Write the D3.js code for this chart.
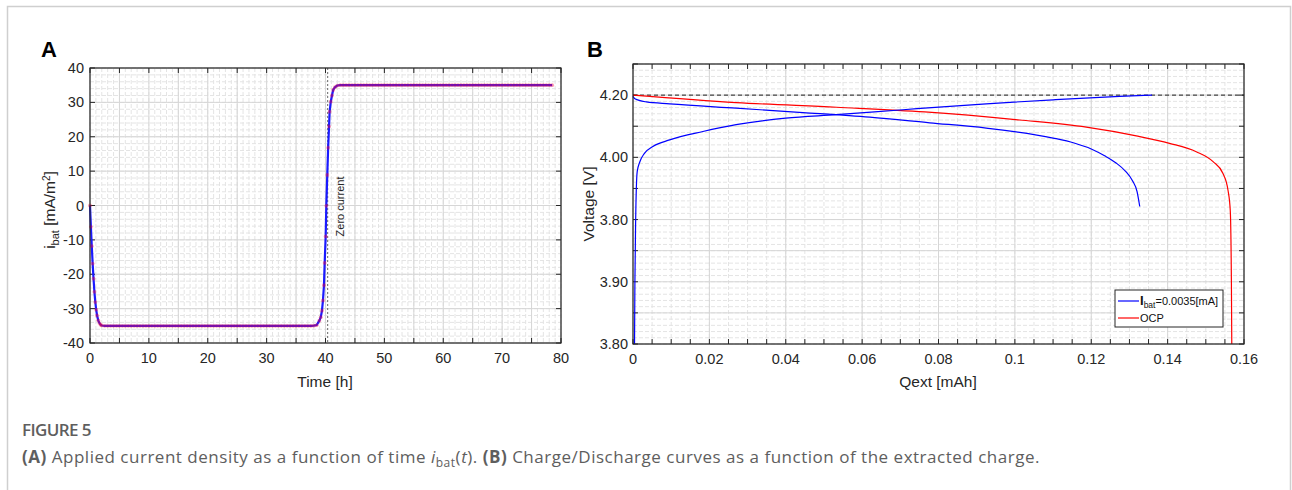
<!DOCTYPE html>
<html>
<head>
<meta charset="utf-8">
<script src="https://cdn.jsdelivr.net/npm/d3@7"></script>
<style>
  body { margin: 0; background: #fff; }
  svg text { font-family: "Liberation Sans", Arial, sans-serif; }
  svg text.caption { font-family: "Open Sans", "Noto Sans", sans-serif; }
</style>
</head>
<body>
<svg id="chart"></svg>
<script>
// ---- Panel A data: applied current density vs time ----
const timeH = [
  0, 0.15, 0.3, 0.45, 0.6, 0.75, 0.9, 1.05, 1.2, 1.4, 1.6, 1.8, 2.0,
  2.5, 3, 3.5, 4, 4.5, 5, 5.5, 6, 6.5, 7, 7.5, 8, 8.5, 9, 9.5, 10, 10.5, 11, 11.5, 12,
  12.5, 13, 13.5, 14, 14.5, 15, 15.5, 16, 16.5, 17, 17.5, 18, 18.5, 19, 19.5, 20, 20.5,
  21, 21.5, 22, 22.5, 23, 23.5, 24, 24.5, 25, 25.5, 26, 26.5, 27, 27.5, 28, 28.5, 29,
  29.5, 30, 30.5, 31, 31.5, 32, 32.5, 33, 33.5, 34, 34.5, 35, 35.5, 36, 36.5, 37, 37.5,
  38, 38.5, 38.95, 39.2, 39.4, 39.57, 39.74, 39.86, 40.03, 40.14, 40.3, 40.45, 40.6,
  40.7, 40.9, 41.1, 41.3, 41.6, 42,
  42.5, 43, 43.5, 44, 44.5, 45, 45.5, 46, 46.5, 47, 47.5, 48, 48.5, 49, 49.5, 50, 50.5,
  51, 51.5, 52, 52.5, 53, 53.5, 54, 54.5, 55, 55.5, 56, 56.5, 57, 57.5, 58, 58.5, 59,
  59.5, 60, 60.5, 61, 61.5, 62, 62.5, 63, 63.5, 64, 64.5, 65, 65.5, 66, 66.5, 67, 67.5,
  68, 68.5, 69, 69.5, 70, 70.5, 71, 71.5, 72, 72.5, 73, 73.5, 74, 74.5, 75, 75.5, 76,
  76.5, 77, 77.5, 78, 78.5
];
const iBat = [
  0, -6.2, -11.8, -16.9, -21.3, -25.1, -28.1, -30.3, -32.0, -33.4, -34.2, -34.7, -34.9,
  -35, -35, -35, -35, -35, -35, -35, -35, -35, -35, -35, -35, -35, -35, -35, -35, -35, -35, -35, -35,
  -35, -35, -35, -35, -35, -35, -35, -35, -35, -35, -35, -35, -35, -35, -35, -35, -35,
  -35, -35, -35, -35, -35, -35, -35, -35, -35, -35, -35, -35, -35, -35, -35, -35, -35,
  -35, -35, -35, -35, -35, -35, -35, -35, -35, -35, -35, -35, -35, -35, -35, -35, -35,
  -34.95, -34.8, -33.5, -32.5, -30.6, -27.6, -23.2, -16.7, -9.0, -0.1, 8.9, 16.8, 23.0,
  27.3, 30.2, 32.0, 33.6, 34.4, 34.9,
  35, 35, 35, 35, 35, 35, 35, 35, 35, 35, 35, 35, 35, 35, 35, 35, 35,
  35, 35, 35, 35, 35, 35, 35, 35, 35, 35, 35, 35, 35, 35, 35, 35, 35,
  35, 35, 35, 35, 35, 35, 35, 35, 35, 35, 35, 35, 35, 35, 35, 35, 35,
  35, 35, 35, 35, 35, 35, 35, 35, 35, 35, 35, 35, 35, 35, 35, 35, 35,
  35, 35, 35, 35, 35
];
const zeroCurrentTime = 40.37;
const timeTicks = [0, 10, 20, 30, 40, 50, 60, 70, 80];
const currentTicks = [-40, -30, -20, -10, 0, 10, 20, 30, 40];

// ---- Panel B data: charge / discharge curves ----
const chargeQ = [0.0004, 0.0005, 0.0007, 0.0011, 0.0018, 0.003, 0.0052, 0.0096, 0.0183, 0.027,
  0.040, 0.0533, 0.0707, 0.0925, 0.11, 0.1274, 0.1359];
const chargeV = [3.40, 3.60, 3.80, 3.954, 3.986, 4.013, 4.035, 4.056, 4.083, 4.105,
  4.126, 4.137, 4.153, 4.172, 4.185, 4.196, 4.20];
const dischargeQ = [0, 0.0005, 0.0035, 0.0096, 0.027, 0.0445, 0.062, 0.0777, 0.0925, 0.11,
  0.1155, 0.12, 0.1235, 0.1265, 0.129, 0.1308, 0.132, 0.1327];
const dischargeV = [4.196, 4.188, 4.178, 4.172, 4.158, 4.144, 4.129, 4.111, 4.094, 4.062,
  4.046, 4.027, 4.005, 3.982, 3.955, 3.925, 3.89, 3.842];
const ocpQ = [0, 0.027, 0.0533, 0.0764, 0.1012, 0.1187, 0.1318, 0.1405, 0.1475, 0.1519,
  0.1545, 0.1558, 0.1564, 0.1567, 0.1568];
const ocpV = [4.20, 4.176, 4.161, 4.146, 4.120, 4.097, 4.069, 4.045, 4.018, 3.986,
  3.948, 3.895, 3.830, 3.60, 3.40];
const referenceVoltage = 4.2;
const qTicks = [0, 0.02, 0.04, 0.06, 0.08, 0.1, 0.12, 0.14, 0.16];
const qTickLabels = ["0", "0.02", "0.04", "0.06", "0.08", "0.1", "0.12", "0.14", "0.16"];
const vTicks = [4.2, 4.0, 3.8, 3.6, 3.4];
const vTickLabels = ["4.20", "4.00", "3.80", "3.90", "3.80"];

const W = 1292, H = 490;
const axisColor = "#262626";
const tickFont = 14.5;
const labelFont = 15.5;

const svg = d3.select("#chart")
    .attr("width", W)
    .attr("height", H);

// Card frame
svg.append("path")
    .attr("d", `M7.5,${H} V6.5 H1290.5 V${H}`)
    .attr("fill", "none")
    .attr("stroke", "#cfcfcf")
    .attr("stroke-width", 1.5);

// Draws grid and inward ticks for one panel
function drawFrame(g, x, y, opt) {
  let [x0, x1] = x.range();
  let [y1, y0] = y.range();

  // minor grid
  g.append("g").selectAll("line")
      .data(opt.xMinor)
    .join("line")
      .attr("x1", d => x(d)).attr("x2", d => x(d))
      .attr("y1", y0).attr("y2", y1)
      .attr("stroke", "#e4e4e4")
      .attr("stroke-dasharray", "4,2");
  g.append("g").selectAll("line")
      .data(opt.yMinor)
    .join("line")
      .attr("y1", d => y(d)).attr("y2", d => y(d))
      .attr("x1", x0).attr("x2", x1)
      .attr("stroke", "#e4e4e4")
      .attr("stroke-dasharray", "4,2");
  // major grid
  g.append("g").selectAll("line")
      .data(opt.xGrid)
    .join("line")
      .attr("x1", d => x(d)).attr("x2", d => x(d))
      .attr("y1", y0).attr("y2", y1)
      .attr("stroke", "#d6d6d6");
  g.append("g").selectAll("line")
      .data(opt.yGrid)
    .join("line")
      .attr("y1", d => y(d)).attr("y2", d => y(d))
      .attr("x1", x0).attr("x2", x1)
      .attr("stroke", "#d6d6d6");

  // inward ticks on all four sides
  let tl = 5;
  let tg = g.append("g").attr("stroke", axisColor);
  opt.xTickMarks.forEach(d => {
    tg.append("line").attr("x1", x(d)).attr("x2", x(d)).attr("y1", y1).attr("y2", y1 - tl);
    tg.append("line").attr("x1", x(d)).attr("x2", x(d)).attr("y1", y0).attr("y2", y0 + tl);
  });
  opt.yTickMarks.forEach(d => {
    tg.append("line").attr("y1", y(d)).attr("y2", y(d)).attr("x1", x0).attr("x2", x0 + tl);
    tg.append("line").attr("y1", y(d)).attr("y2", y(d)).attr("x1", x1).attr("x2", x1 - tl);
  });
}

function drawBox(g, x, y) {
  let [x0, x1] = x.range();
  let [y1, y0] = y.range();
  g.append("rect")
      .attr("x", x0).attr("y", y0)
      .attr("width", x1 - x0).attr("height", y1 - y0)
      .attr("fill", "none")
      .attr("stroke", axisColor)
      .attr("stroke-width", 1.2);
}

// ================= Panel A =================
const xA = d3.scaleLinear().domain([0, 80]).range([90, 561]);
const yA = d3.scaleLinear().domain([-40, 40]).range([343, 68]);
const gA = svg.append("g");

drawFrame(gA, xA, yA, {
  xMinor: d3.range(0, 81, 1),
  yMinor: d3.range(-40, 41, 2),
  xGrid: d3.range(0, 81, 5),
  yGrid: currentTicks,
  xTickMarks: d3.range(0, 81, 5),
  yTickMarks: currentTicks
});

// zero current line
gA.append("line")
    .attr("x1", xA(zeroCurrentTime)).attr("x2", xA(zeroCurrentTime))
    .attr("y1", yA(40)).attr("y2", yA(-40))
    .attr("stroke", "#666")
    .attr("stroke-dasharray", "2,2");
gA.append("text")
    .attr("transform", `translate(${xA(zeroCurrentTime) + 16},${yA(-9)}) rotate(-90)`)
    .attr("font-size", 11)
    .attr("fill", axisColor)
    .text("Zero current");

const seriesA = timeH.map((t, i) => ({ t: t, v: iBat[i] }));
gA.append("path")
    .datum(seriesA)
    .attr("fill", "none")
    .attr("stroke", "#1a1aff")
    .attr("stroke-width", 2.2)
    .attr("d", d3.line().x(d => xA(d.t)).y(d => yA(d.v)));
gA.selectAll("circle.marker")
    .data(seriesA)
  .join("circle")
    .attr("class", "marker")
    .attr("cx", d => xA(d.t))
    .attr("cy", d => yA(d.v))
    .attr("r", 1.9)
    .attr("fill", "#ff0030")
    .attr("fill-opacity", 0.38);

drawBox(gA, xA, yA);

gA.append("g").selectAll("text")
    .data(timeTicks)
  .join("text")
    .attr("x", d => xA(d)).attr("y", 363)
    .attr("text-anchor", "middle")
    .attr("font-size", tickFont)
    .attr("fill", axisColor)
    .text(d => d);
gA.append("g").selectAll("text")
    .data(currentTicks)
  .join("text")
    .attr("x", 84).attr("y", d => yA(d) + 5)
    .attr("text-anchor", "end")
    .attr("font-size", tickFont)
    .attr("fill", axisColor)
    .text(d => d);

gA.append("text")
    .attr("x", 325).attr("y", 387)
    .attr("text-anchor", "middle")
    .attr("font-size", labelFont)
    .attr("fill", axisColor)
    .text("Time [h]");

let yLabA = gA.append("text")
    .attr("transform", `translate(55,210) rotate(-90)`)
    .attr("text-anchor", "middle")
    .attr("font-size", labelFont)
    .attr("fill", axisColor);
yLabA.append("tspan").text("i");
yLabA.append("tspan").attr("font-size", 11).attr("dy", 4).text("bat");
yLabA.append("tspan").attr("dy", -4).text(" [mA/m");
yLabA.append("tspan").attr("font-size", 10).attr("dy", -5).text("2");
yLabA.append("tspan").attr("dy", 5).text("]");

svg.append("text")
    .attr("x", 41).attr("y", 57)
    .attr("font-size", 22)
    .attr("font-weight", "bold")
    .attr("fill", "#000")
    .text("A");

// ================= Panel B =================
const xB = d3.scaleLinear().domain([0, 0.16]).range([633, 1244]);
const yB = d3.scaleLinear().domain([3.4, 4.3]).range([344, 64]);
const gB = svg.append("g");

drawFrame(gB, xB, yB, {
  xMinor: d3.range(0, 0.1601, 0.005),
  yMinor: d3.range(3.4, 4.301, 0.02),
  xGrid: qTicks,
  yGrid: d3.range(3.4, 4.301, 0.1),
  xTickMarks: d3.range(0, 0.1601, 0.005),
  yTickMarks: d3.range(3.4, 4.301, 0.1)
});

gB.append("line")
    .attr("x1", xB(0)).attr("x2", xB(0.16))
    .attr("y1", yB(referenceVoltage)).attr("y2", yB(referenceVoltage))
    .attr("stroke", "#222")
    .attr("stroke-dasharray", "4,3");

const lineB = d3.line()
    .x(d => xB(d.q))
    .y(d => yB(d.v))
    .curve(d3.curveMonotoneX);

const curvesB = [
  { q: ocpQ, v: ocpV, colour: "#ff0000" },
  { q: dischargeQ, v: dischargeV, colour: "#0000ff" },
  { q: chargeQ, v: chargeV, colour: "#0000ff" }
];
curvesB.forEach(c => {
  gB.append("path")
      .datum(c.q.map((q, i) => ({ q: q, v: c.v[i] })))
      .attr("fill", "none")
      .attr("stroke", c.colour)
      .attr("stroke-width", 1.2)
      .attr("d", lineB);
});

drawBox(gB, xB, yB);

gB.append("g").selectAll("text")
    .data(qTicks)
  .join("text")
    .attr("x", d => xB(d)).attr("y", 364)
    .attr("text-anchor", "middle")
    .attr("font-size", tickFont)
    .attr("fill", axisColor)
    .text((d, i) => qTickLabels[i]);
gB.append("g").selectAll("text")
    .data(vTicks)
  .join("text")
    .attr("x", 628).attr("y", d => yB(d) + 5)
    .attr("text-anchor", "end")
    .attr("font-size", tickFont)
    .attr("fill", axisColor)
    .text((d, i) => vTickLabels[i]);

gB.append("text")
    .attr("x", 938).attr("y", 387)
    .attr("text-anchor", "middle")
    .attr("font-size", labelFont)
    .attr("fill", axisColor)
    .text("Qext [mAh]");
gB.append("text")
    .attr("transform", `translate(594,204) rotate(-90)`)
    .attr("text-anchor", "middle")
    .attr("font-size", labelFont)
    .attr("fill", axisColor)
    .text("Voltage [V]");

// legend
const leg = gB.append("g").attr("transform", "translate(1115,290)");
leg.append("rect")
    .attr("width", 108).attr("height", 37)
    .attr("fill", "#fff")
    .attr("stroke", axisColor);
leg.append("line").attr("x1", 3).attr("x2", 24).attr("y1", 11).attr("y2", 11)
    .attr("stroke", "#0000ff").attr("stroke-width", 1.2);
leg.append("line").attr("x1", 3).attr("x2", 24).attr("y1", 28).attr("y2", 28)
    .attr("stroke", "#ff0000").attr("stroke-width", 1.2);
let legText = leg.append("text")
    .attr("x", 25).attr("y", 15)
    .attr("font-size", 11)
    .attr("fill", "#111");
legText.append("tspan").attr("font-size", 13).attr("font-weight", "bold").text("I");
legText.append("tspan").attr("font-size", 8.5).attr("dy", 3).text("bat");
legText.append("tspan").attr("dy", -3).text("=0.0035[mA]");
leg.append("text")
    .attr("x", 25).attr("y", 32)
    .attr("font-size", 11)
    .attr("fill", "#111")
    .text("OCP");

svg.append("text")
    .attr("x", 587).attr("y", 57)
    .attr("font-size", 22)
    .attr("font-weight", "bold")
    .attr("fill", "#000")
    .text("B");

// ================= Caption =================
svg.append("text")
    .attr("class", "caption")
    .attr("x", 22).attr("y", 436)
    .attr("font-size", 17)
    .attr("font-weight", 600)
    .attr("fill", "#5e5e5e")
    .attr("letter-spacing", -0.6)
    .text("FIGURE 5");

let cap = svg.append("text")
    .attr("class", "caption")
    .attr("x", 22).attr("y", 463)
    .attr("font-size", 17)
    .attr("fill", "#5e5e5e");
cap.append("tspan").attr("font-weight", "bold").text("(A)");
cap.append("tspan").text(" Applied current density as a function of time ");
cap.append("tspan").attr("font-style", "italic").text("i");
cap.append("tspan").attr("font-size", 12).attr("dy", 4).text("bat");
cap.append("tspan").attr("dy", -4).text("(");
cap.append("tspan").attr("font-style", "italic").text("t");
cap.append("tspan").text("). ");
cap.append("tspan").attr("font-weight", "bold").text("(B)");
cap.append("tspan").text(" Charge/Discharge curves as a function of the extracted charge.");

// adjust caption spacing so it ends where the reference line ends
let capLen = cap.node().getComputedTextLength();
let nChars = cap.text().length;
cap.attr("letter-spacing", (1040 - 22 - capLen) / nChars);
</script>
</body>
</html>
